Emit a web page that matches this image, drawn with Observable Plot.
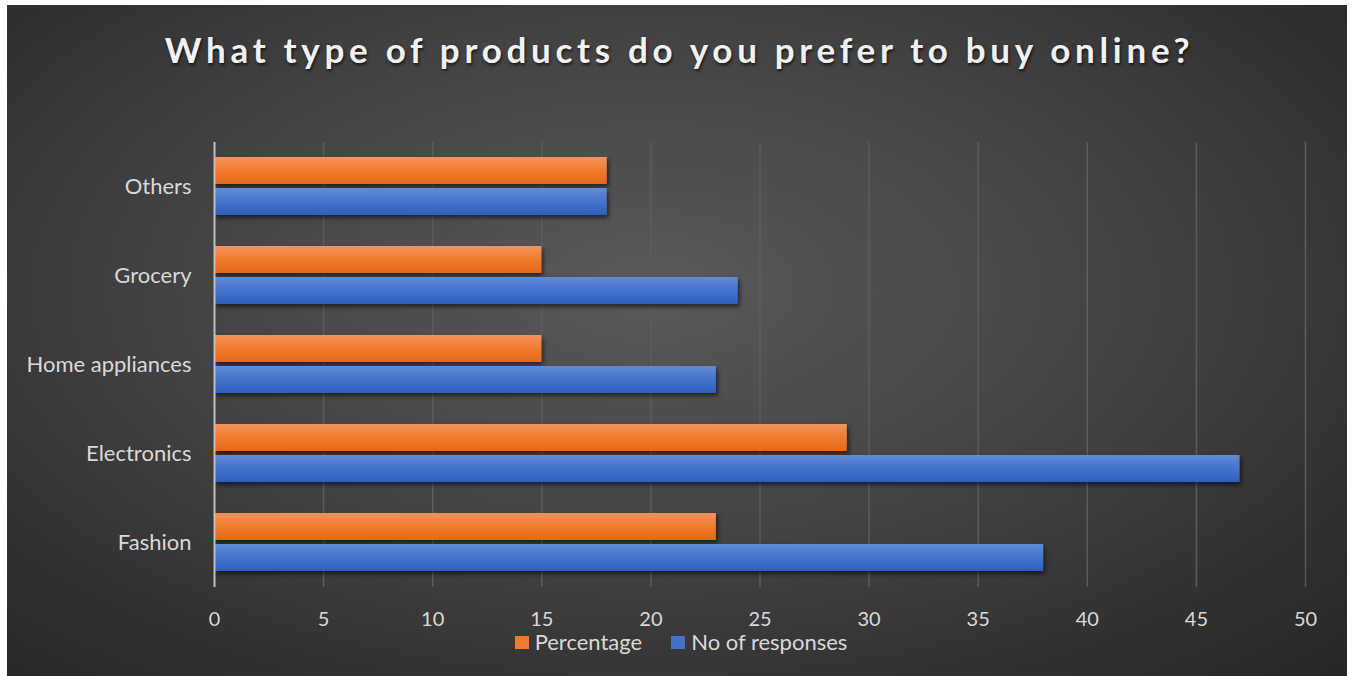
<!DOCTYPE html>
<html>
<head>
<meta charset="utf-8">
<script src="https://cdn.jsdelivr.net/npm/d3@7"></script>
<script src="https://cdn.jsdelivr.net/npm/@observablehq/plot@0.6"></script>
<style>
  html, body { margin: 0; padding: 0; background: #ffffff; }
  #chart {
    position: absolute; left: 7px; top: 5px; width: 1340px; height: 671px;
    background: radial-gradient(ellipse 75% 80% at 48% 42%, #5a5a5a 0%, #444 45%, #262626 100%);
    font-family: Lato, "Open Sans", sans-serif;
    overflow: hidden;
  }
  #title {
    box-sizing: border-box; height: 95px; padding-top: 26px;
    text-align: center; color: #f2f2f2; font-weight: 700; font-size: 35px;
    letter-spacing: 4.7px; line-height: 36px; padding-left: 5px; white-space: nowrap;
    text-shadow: 1px 2px 3px rgba(0,0,0,0.65);
  }
  #legend {
    display: flex; justify-content: center; align-items: center; gap: 29px;
    color: #d9d9d9; font-size: 22px; line-height: 24px; margin-top: -3px;
    padding-left: 8px;
  }
  .item { display: flex; align-items: center; gap: 6px; }
  .sw { width: 14px; height: 13px; display: inline-block; }
  svg { display: block; }
</style>
</head>
<body>
<div id="chart">
  <div id="title">What type of products do you prefer to buy online?</div>
  <div id="plot"></div>
  <div id="legend"></div>
</div>
<script>
const categories = ["Others", "Grocery", "Home appliances", "Electronics", "Fashion"];
const series = ["Percentage", "No of responses"];
const percentage = [18, 15, 15, 29, 23];
const responses = [18, 24, 23, 47, 38];
const xTicks = [0, 5, 10, 15, 20, 25, 30, 35, 40, 45, 50];
const seriesFill = ["url(#gO)", "url(#gB)"];
const legendColors = ["#ee7a2e", "#4472c4"];

const rows = [];
categories.forEach((c, i) => {
  rows.push({category: c, series: series[0], value: percentage[i]});
  rows.push({category: c, series: series[1], value: responses[i]});
});

const plot = Plot.plot({
  width: 1340,
  height: 533,
  marginLeft: 207,
  marginRight: 42,
  marginTop: 40,
  marginBottom: 45,
  style: {background: "transparent", color: "#d9d9d9", fontFamily: "Lato, 'Open Sans', sans-serif"},
  x: {domain: [0, 50]},
  fy: {domain: categories, padding: 0},
  y: {domain: series, paddingInner: 0.125, paddingOuter: 0.4625, axis: null},
  marks: [
    Plot.gridX({ticks: xTicks.filter(t => t > 0), stroke: "#5c5c5c", strokeOpacity: 1, strokeWidth: 1.5}),
    Plot.barX(rows.filter(d => d.series === series[0]), {x: "value", y: "series", fy: "category", fill: seriesFill[0]}),
    Plot.barX(rows.filter(d => d.series === series[1]), {x: "value", y: "series", fy: "category", fill: seriesFill[1]}),
    Plot.ruleX([0], {stroke: "#bfbfbf", strokeWidth: 2}),
    Plot.axisX({ticks: xTicks, tickSize: 0, tickPadding: 24, fontSize: 20, label: null}),
    Plot.axisFy({anchor: "left", tickSize: 0, tickPadding: 23, fontSize: 22, label: null})
  ]
});

// gradients & shadow
const ns = "http://www.w3.org/2000/svg";
const defs = document.createElementNS(ns, "defs");
defs.innerHTML = `
  <linearGradient id="gO" x1="0" y1="0" x2="0" y2="1">
    <stop offset="0" stop-color="#f39461"/>
    <stop offset="0.5" stop-color="#f07b2c"/>
    <stop offset="1" stop-color="#e5681a"/>
  </linearGradient>
  <linearGradient id="gB" x1="0" y1="0" x2="0" y2="1">
    <stop offset="0" stop-color="#628bd4"/>
    <stop offset="0.5" stop-color="#4673cc"/>
    <stop offset="1" stop-color="#2d5fbf"/>
  </linearGradient>
  <filter id="shadow" x="-5%" y="-30%" width="115%" height="180%">
    <feDropShadow dx="2" dy="3" stdDeviation="2.2" flood-color="#000" flood-opacity="0.55"/>
  </filter>`;
plot.insertBefore(defs, plot.firstChild);
plot.querySelectorAll('g[aria-label="bar"]').forEach(g => g.setAttribute("filter", "url(#shadow)"));

document.getElementById("plot").appendChild(plot);

const legend = document.getElementById("legend");
series.forEach((s, i) => {
  const item = document.createElement("div");
  item.className = "item";
  const sw = document.createElement("span");
  sw.className = "sw";
  sw.style.background = legendColors[i];
  const t = document.createElement("span");
  t.textContent = s;
  item.appendChild(sw); item.appendChild(t);
  legend.appendChild(item);
});
</script>
</body>
</html>
